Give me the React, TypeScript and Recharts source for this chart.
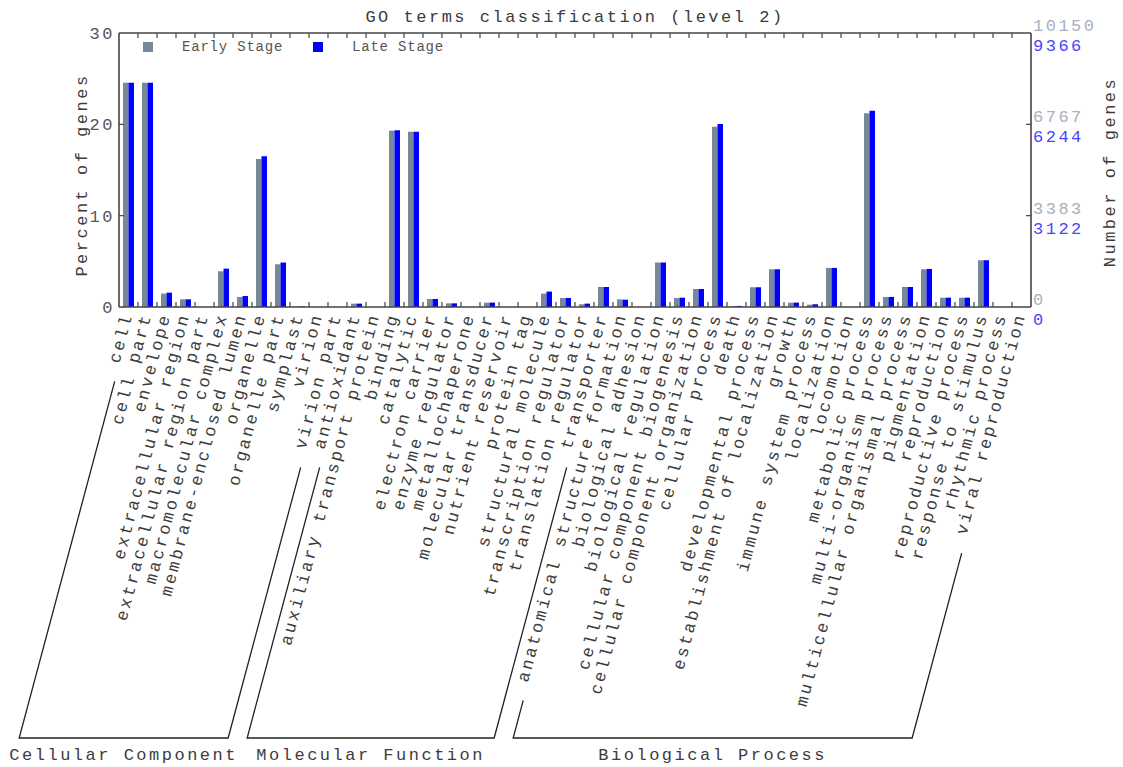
import React from 'react';
import { BarChart, Bar, XAxis, YAxis, Legend } from 'recharts';

// GO term categories (level 2), in plotting order
const categories = [
  'cell', 'cell part', 'envelope', 'extracellular region', 'extracellular region part',
  'macromolecular complex', 'membrane-enclosed lumen', 'organelle', 'organelle part',
  'symplast', 'virion', 'virion part',
  'antioxidant', 'auxiliary transport protein', 'binding', 'catalytic', 'electron carrier',
  'enzyme regulator', 'metallochaperone', 'molecular transducer', 'nutrient reservoir',
  'protein tag', 'structural molecule', 'transcription regulator', 'translation regulator',
  'transporter',
  'anatomical structure formation', 'biological adhesion', 'biological regulation',
  'cellular component biogenesis', 'cellular component organization', 'cellular process',
  'death', 'developmental process', 'establishment of localization', 'growth',
  'immune system process', 'localization', 'locomotion', 'metabolic process',
  'multi-organism process', 'multicellular organismal process', 'pigmentation',
  'reproduction', 'reproductive process', 'response to stimulus', 'rhythmic process',
  'viral reproduction',
];

// percent of genes
const earlyStage = [
  24.56, 24.56, 1.47, 0.84, 0, 3.91, 1.1, 16.2, 4.68, 0.03, 0, 0,
  0.37, 0, 19.3, 19.2, 0.88, 0.4, 0, 0.48, 0, 0, 1.47, 0.99, 0.3, 2.19,
  0.84, 0, 4.87, 0.99, 1.97, 19.74, 0.1, 2.16, 4.13, 0.48, 0.26, 4.28, 0, 21.2,
  1.1, 2.19, 4.13, 1.02, 1.02, 5.12, 0, 0,
];
const lateStage = [
  24.56, 24.56, 1.57, 0.84, 0, 4.2, 1.2, 16.5, 4.87, 0.06, 0, 0,
  0.37, 0, 19.34, 19.2, 0.88, 0.4, 0, 0.48, 0, 0, 1.69, 0.99, 0.37, 2.19,
  0.8, 0, 4.87, 1.02, 1.97, 20.03, 0.12, 2.16, 4.13, 0.48, 0.3, 4.28, 0, 21.5,
  1.1, 2.19, 4.17, 1.02, 1.02, 5.12, 0, 0,
];

const groups = [
  { name: 'Cellular Component', start: 0, end: 11 },
  { name: 'Molecular Function', start: 12, end: 25 },
  { name: 'Biological Process', start: 26, end: 47 },
];

const percentTicks = [0, 10, 20, 30];
const earlyCountLabels = ['0', '3383', '6767', '10150'];
const lateCountLabels = ['0', '3122', '6244', '9366'];

const data = categories.map((name, i) => ({ name, early: earlyStage[i], late: lateStage[i] }));

const W = 1123;
const H = 767;
const LEFT_W = 119;
const RIGHT_W = 92;
const TOP_H = 33;
const BOTTOM_H = 460;
const PLOT_TOP = TOP_H;
const PLOT_BOTTOM = H - BOTTOM_H;
const BAND = (W - LEFT_W - RIGHT_W) / categories.length;

const FONT = '"Liberation Mono", "Courier New", monospace';
const FONT_SIZE = 17;
const SPACING = 2.5;
const CHAR = FONT_SIZE * 0.6 + SPACING;
const AXIS = '#444';
const TEXT = '#3c3c3c';
const EARLY = '#778899';
const LATE = '#0000ff';

const RAD = (15 * Math.PI) / 180;
const DIR_X = -Math.sin(RAD);
const DIR_Y = Math.cos(RAD);
const BRACKET_Y = 738;

const textStyle = { fontFamily: FONT, fontSize: FONT_SIZE, letterSpacing: SPACING, fill: TEXT };

// slanted bracket line continuing the direction of a rotated label
const slantLine = (ax: number, ay: number, label: string) => {
  const s0 = label.length * CHAR + 18;
  const t = (BRACKET_Y - ay) / DIR_Y;
  return { x1: ax + DIR_X * s0, y1: ay + DIR_Y * s0, x2: ax + DIR_X * t, y2: BRACKET_Y };
};

const CategoryTick = (props: any) => {
  const { x, payload, index } = props;
  const label = String(payload.value);
  const ax = x + 4;
  const ay = PLOT_BOTTOM + 8;
  const bx = x + BAND / 2;
  const group = groups.find((g) => g.start === index);
  let bracket = null;
  if (group) {
    const left = slantLine(ax, ay, label);
    const right = slantLine(ax + (group.end - group.start) * BAND, ay, categories[group.end]);
    bracket = (
      <g>
        <polyline
          points={`${left.x1},${left.y1} ${left.x2},${left.y2} ${right.x2},${right.y2} ${right.x1},${right.y1}`}
          fill="none"
          stroke="#222"
          strokeWidth={1.3}
        />
        <text x={(left.x2 + right.x2) / 2} y={760} textAnchor="middle" style={textStyle}>
          {group.name}
        </text>
      </g>
    );
  }
  return (
    <g>
      {index < categories.length - 1 && (
        <line x1={bx} x2={bx} y1={PLOT_BOTTOM} y2={PLOT_BOTTOM - 5} stroke={AXIS} strokeWidth={1.2} />
      )}
      <text x={ax} y={ay} transform={`rotate(-75 ${ax} ${ay})`} textAnchor="end" style={textStyle}>
        {label}
      </text>
      {bracket}
    </g>
  );
};

const TopTick = (props: any) => {
  const { x, index } = props;
  if (index >= categories.length - 1) return <g />;
  const bx = x + BAND / 2;
  return <line x1={bx} x2={bx} y1={PLOT_TOP} y2={PLOT_TOP + 5} stroke={AXIS} strokeWidth={1.2} />;
};

const PercentTick = (props: any) => {
  const { y, payload } = props;
  const v = payload.value;
  return (
    <g>
      {v !== 0 && v !== 30 && (
        <line x1={LEFT_W} x2={LEFT_W + 5} y1={y} y2={y} stroke={AXIS} strokeWidth={1.2} />
      )}
      <text x={LEFT_W - 4} y={y} dy="0.35em" textAnchor="end" style={{ ...textStyle, fill: '#555' }}>
        {v}
      </text>
    </g>
  );
};

const CountTick = (props: any) => {
  const { y, payload } = props;
  const v = payload.value;
  const i = percentTicks.indexOf(v);
  const ax = W - RIGHT_W;
  return (
    <g>
      {v !== 0 && v !== 30 && (
        <line x1={ax} x2={ax - 5} y1={y} y2={y} stroke={AXIS} strokeWidth={1.2} />
      )}
      <text x={ax + 2} y={y - 8} dy="0.35em" style={{ ...textStyle, fill: '#a8b0c0' }}>
        {earlyCountLabels[i]}
      </text>
      <text x={ax + 2} y={y + 12} dy="0.35em" style={{ ...textStyle, fill: '#4646ff' }}>
        {lateCountLabels[i]}
      </text>
    </g>
  );
};

const renderLegend = (props: any) => {
  const { payload } = props;
  return (
    <div style={{ display: 'flex', fontFamily: FONT, fontSize: 14, letterSpacing: 0.8, color: '#555' }}>
      {(payload || []).map((entry: any) => (
        <div key={entry.value} style={{ display: 'flex', alignItems: 'center', width: 170 }}>
          <span style={{ width: 10, height: 10, background: entry.color, marginRight: 29 }} />
          <span>{entry.value}</span>
        </div>
      ))}
    </div>
  );
};

const App: React.FC = () => {
  return (
    <div style={{ position: 'absolute', left: 0, top: 0, background: '#fff' }}>
      <BarChart
        width={W}
        height={H}
        data={data}
        margin={{ top: 0, right: 0, left: 0, bottom: 0 }}
        barGap={0}
        barCategoryGap={4}
      >
        <XAxis
          dataKey="name"
          height={BOTTOM_H}
          interval={0}
          tickLine={false}
          axisLine={{ stroke: AXIS, strokeWidth: 1.6 }}
          tick={<CategoryTick />}
        />
        <XAxis
          xAxisId="top"
          dataKey="name"
          orientation="top"
          height={TOP_H}
          interval={0}
          tickLine={false}
          axisLine={{ stroke: AXIS, strokeWidth: 1.6 }}
          tick={<TopTick />}
          label={{
            content: () => (
              <text x={(LEFT_W + W - RIGHT_W) / 2} y={22} textAnchor="middle" style={textStyle}>
                GO terms classification (level 2)
              </text>
            ),
          }}
        />
        <YAxis
          yAxisId="left"
          type="number"
          width={LEFT_W}
          domain={[0, 30]}
          ticks={percentTicks}
          interval={0}
          tickLine={false}
          axisLine={{ stroke: AXIS, strokeWidth: 1.6 }}
          tick={<PercentTick />}
          label={{
            content: () => (
              <text x={87} y={175} transform="rotate(-90 87 175)" textAnchor="middle" style={textStyle}>
                Percent of genes
              </text>
            ),
          }}
        />
        <YAxis
          yAxisId="right"
          type="number"
          orientation="right"
          width={RIGHT_W}
          domain={[0, 30]}
          allowDataOverflow
          ticks={percentTicks}
          interval={0}
          tickLine={false}
          axisLine={{ stroke: AXIS, strokeWidth: 1.6 }}
          tick={<CountTick />}
          label={{
            content: () => (
              <text x={1115} y={172} transform="rotate(-90 1115 172)" textAnchor="middle" style={textStyle}>
                Number of genes
              </text>
            ),
          }}
        />
        <Legend
          verticalAlign="middle"
          layout="horizontal"
          align="center"
          content={renderLegend}
          wrapperStyle={{ position: 'absolute', top: 39, left: 143, width: 'auto', height: 'auto' }}
        />
        <Bar yAxisId="left" dataKey="early" name="Early Stage" fill={EARLY} barSize={5.5} isAnimationActive={false} />
        <Bar yAxisId="left" dataKey="late" name="Late Stage" fill={LATE} barSize={5.5} isAnimationActive={false} />
      </BarChart>
    </div>
  );
};

export default App;
